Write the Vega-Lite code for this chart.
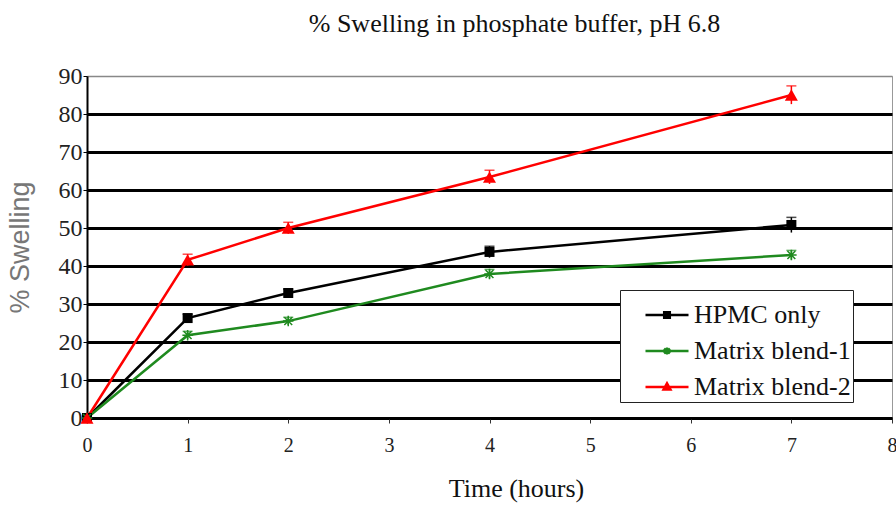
{
  "$schema": "https://vega.github.io/schema/vega-lite/v6.json",
  "width": 805,
  "height": 342,
  "autosize": {"type": "none"},
  "padding": {"left": 87, "top": 76, "right": 4, "bottom": 88},
  "background": "white",
  "title": {
    "text": "% Swelling in phosphate buffer, pH 6.8",
    "font": "Liberation Serif",
    "fontSize": 26,
    "fontWeight": "normal",
    "color": "#111",
    "anchor": "middle",
    "dx": 25,
    "offset": 27
  },
  "config": {
    "view": {"stroke": "#999", "strokeWidth": 1},
    "axisX": {"labelFont": "Liberation Serif", "labelFontSize": 20, "labelColor": "#222", "labelPadding": 12, "tickSize": 5, "tickColor": "#333", "domainColor": "#000", "domainWidth": 2, "grid": false, "labelFlush": false},
    "axisY": {"labelFont": "Liberation Serif", "labelFontSize": 24, "labelColor": "#222", "labelPadding": 1, "tickSize": 4, "tickColor": "#000", "domainColor": "#000", "domainWidth": 2, "grid": true, "gridColor": "#000", "gridWidth": 3, "gridOpacity": 1}
  },
  "data": {
    "values": [
      {"series": "HPMC only", "time": 0, "value": 0, "err": 0},
      {"series": "HPMC only", "time": 1, "value": 26.3, "err": 1.0},
      {"series": "HPMC only", "time": 2, "value": 32.9, "err": 1.0},
      {"series": "HPMC only", "time": 4, "value": 43.7, "err": 1.5},
      {"series": "HPMC only", "time": 7, "value": 50.8, "err": 2.0},
      {"series": "Matrix blend-1", "time": 0, "value": 0, "err": 0},
      {"series": "Matrix blend-1", "time": 1, "value": 21.8, "err": 1.0},
      {"series": "Matrix blend-1", "time": 2, "value": 25.5, "err": 1.0},
      {"series": "Matrix blend-1", "time": 4, "value": 37.9, "err": 1.2},
      {"series": "Matrix blend-1", "time": 7, "value": 42.9, "err": 1.2},
      {"series": "Matrix blend-2", "time": 0, "value": 0, "err": 0},
      {"series": "Matrix blend-2", "time": 1, "value": 41.6, "err": 1.5},
      {"series": "Matrix blend-2", "time": 2, "value": 50.0, "err": 1.5},
      {"series": "Matrix blend-2", "time": 4, "value": 63.4, "err": 1.8},
      {"series": "Matrix blend-2", "time": 7, "value": 85.0, "err": 2.4}
    ]
  },
  "transform": [
    {"calculate": "datum.value - datum.err", "as": "lo"},
    {"calculate": "datum.value + datum.err", "as": "hi"}
  ],
  "encoding": {
    "x": {
      "field": "time",
      "type": "quantitative",
      "scale": {"domain": [0, 8], "nice": false},
      "axis": {
        "title": "Time (hours)",
        "titleFont": "Liberation Serif",
        "titleFontSize": 26,
        "titleFontWeight": "normal",
        "titleColor": "#111",
        "titleX": 429,
        "titlePadding": 20,
        "values": [0, 1, 2, 3, 4, 5, 6, 7, 8],
        "labelFont": "Liberation Serif",
        "labelFontSize": 20
      }
    },
    "y": {
      "field": "value",
      "type": "quantitative",
      "scale": {"domain": [0, 90], "nice": false},
      "axis": {
        "title": "% Swelling",
        "titleFont": "Liberation Sans",
        "titleFontSize": 27,
        "titleFontWeight": "normal",
        "titleColor": "#777",
        "titlePadding": 24,
        "values": [0, 10, 20, 30, 40, 50, 60, 70, 80, 90],
        "labelFont": "Liberation Serif",
        "labelFontSize": 24,
        "gridColor": {"condition": {"test": "datum.value === 90", "value": "#888"}, "value": "#000"},
        "gridWidth": {"condition": {"test": "datum.value === 90", "value": 1.5}, "value": 3}
      }
    },
    "color": {
      "field": "series",
      "type": "nominal",
      "scale": {
        "domain": ["HPMC only", "Matrix blend-1", "Matrix blend-2"],
        "range": ["#000000", "#1f8a1f", "#ff0000"]
      },
      "legend": {
        "orient": "none",
        "legendX": 533,
        "legendY": 214,
        "title": null,
        "fillColor": "white",
        "strokeColor": "#222",
        "padding": 2,
        "labelFont": "Liberation Serif",
        "labelFontSize": 26,
        "labelColor": "#111",
        "symbolSize": 1850,
        "symbolOffset": 22,
        "rowPadding": -14,
        "labelOffset": 4,
        "symbolStrokeWidth": 2.5,
        "encode": {
          "labels": {"update": {"font": {"value": "Liberation Serif"}}},
          "symbols": {
            "update": {
              "shape": {"signal": "datum.value === 'HPMC only' ? 'M-1,0H1M-0.13,-0.13H0.13V0.13H-0.13Z' : datum.value === 'Matrix blend-1' ? 'M-1,0H1M0,-0.16V0.16M-0.14,-0.11L0.14,0.11M-0.14,0.11L0.14,-0.11' : 'M-1,0H1M0,-0.17L0.16,0.12H-0.16Z'"},
              "fill": {"signal": "datum.value === 'HPMC only' ? '#000000' : datum.value === 'Matrix blend-1' ? '#1f8a1f' : '#ff0000'"},
              "stroke": {"signal": "datum.value === 'HPMC only' ? '#000000' : datum.value === 'Matrix blend-1' ? '#1f8a1f' : '#ff0000'"},
              "fillOpacity": {"value": 1},
              "strokeWidth": {"value": 2.5}
            }
          }
        }
      }
    }
  },
  "layer": [
    {
      "mark": {"type": "line", "strokeWidth": 2.5}
    },
    {
      "mark": {"type": "rule", "strokeWidth": 1.5},
      "encoding": {"y": {"field": "lo", "type": "quantitative"}, "y2": {"field": "hi"}}
    },
    {
      "mark": {"type": "tick", "orient": "horizontal", "size": 10, "thickness": 1.5},
      "encoding": {"y": {"field": "hi", "type": "quantitative"}}
    },
    {
      "transform": [{"filter": "datum.series === 'HPMC only'"}],
      "mark": {"type": "point", "shape": "square", "filled": true, "opacity": 1, "size": 100}
    },
    {
      "transform": [{"filter": "datum.series === 'Matrix blend-1'"}],
      "mark": {"type": "point", "shape": "M-1,0H1M0,-1V1M-0.75,-0.75L0.75,0.75M-0.75,0.75L0.75,-0.75", "filled": false, "opacity": 1, "size": 110, "strokeWidth": 1.5}
    },
    {
      "transform": [{"filter": "datum.series === 'Matrix blend-2'"}],
      "mark": {"type": "point", "shape": "triangle-up", "filled": true, "opacity": 1, "size": 170}
    }
  ]
}
